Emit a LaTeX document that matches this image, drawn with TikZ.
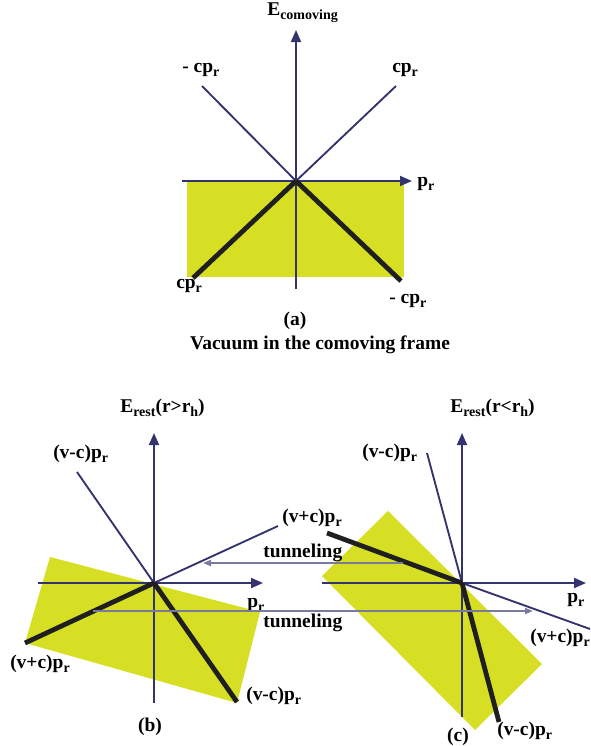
\documentclass[tikz,border=0pt]{standalone}
\usepackage{fontspec}
\setmainfont{Liberation Serif}
\usetikzlibrary{arrows.meta}
\definecolor{axisblue}{HTML}{33336E}
\definecolor{tunblue}{HTML}{7A7A9C}
\definecolor{vacyellow}{HTML}{D6DF23}
\newcommand\sbs[1]{\raisebox{-0.45ex}{\fontsize{10.5}{11}\selectfont #1}}
\tikzset{
  lbl/.style={inner sep=0pt,font=\fontsize{14.6}{16}\selectfont\bfseries,text=black},
  axis/.style={axisblue,line width=1.4pt,-{Triangle[width=7.5pt,length=9pt]}},
  thin/.style={axisblue,line width=1.4pt},
  thick/.style={black!88,line width=3.6pt},
  tun/.style={tunblue,line width=1.4pt,-{Triangle[width=4.5pt,length=6pt]}},
  vac/.style={fill=vacyellow,draw=none}
}
\begin{document}
\begin{tikzpicture}[x=0.75pt,y=-0.75pt]
\useasboundingbox (0,0) rectangle (590,746);
% ---------------- panel (a)
\coordinate (Oa) at (296,181);
\coordinate (aB) at (296,289);
\coordinate (aT) at (296,30);
\coordinate (aL) at (182,181);
\coordinate (aR) at (412,181);
\coordinate (aUL) at (202,86);
\coordinate (aUR) at (396,86);
\coordinate (aDL) at (193,278);
\coordinate (aDR) at (401,281);
\fill[vac] (187,181) rectangle (404,277);
\draw[axis] (aB) -- (aT);
\draw[axis] (aL) -- (aR);
\draw[thin] (Oa) -- (aUL);
\draw[thin] (Oa) -- (aUR);
\draw[thick] (Oa) -- (aDL);
\draw[thick] (Oa) -- (aDR);
\node[lbl,anchor=base west] (la1) at (267,15) {E\sbs{comoving}};
\node[lbl,anchor=base west] (la2) at (182,72) {- cp\sbs{r}};
\node[lbl,anchor=base west] (la3) at (392,72) {cp\sbs{r}};
\node[lbl,anchor=base west] (la4) at (417,186) {p\sbs{r}};
\node[lbl,anchor=base west] (la5) at (176,288) {cp\sbs{r}};
\node[lbl,anchor=base west] (la6) at (389,303) {- cp\sbs{r}};
\node[lbl,anchor=base] (la7) at (295,325) {(a)};
\node[lbl,anchor=base] (la8) at (320,349) {Vacuum in the comoving frame};
% ---------------- panel (b)
\coordinate (Ob) at (154,583);
\coordinate (bB) at (154,703);
\coordinate (bT) at (154,433);
\coordinate (bL) at (38,583);
\coordinate (bR) at (263,583);
\coordinate (bUL) at (77,472);
\coordinate (bUR) at (278,526);
\coordinate (bDL) at (25,643);
\coordinate (bDR) at (237,702);
\fill[vac] (50,557) -- (260,612) -- (237,703) -- (25,643) -- cycle;
\draw[axis] (bB) -- (bT);
\draw[axis] (bL) -- (bR);
\draw[thin] (Ob) -- (bUL);
\draw[thin] (Ob) -- (bUR);
\draw[thick] (Ob) -- (bDL);
\draw[thick] (Ob) -- (bDR);
\node[lbl,anchor=base west] (lb1) at (120,412) {E\sbs{rest}(r>r\sbs{h})};
\node[lbl,anchor=base west] (lb2) at (53,458) {(v-c)p\sbs{r}};
\node[lbl,anchor=base west] (lb3) at (282,522) {(v+c)p\sbs{r}};
\node[lbl,anchor=base west] (lb4) at (247,607) {p\sbs{r}};
\node[lbl,anchor=base west] (lb5) at (10,668) {(v+c)p\sbs{r}};
\node[lbl,anchor=base west] (lb6) at (246,700) {(v-c)p\sbs{r}};
\node[lbl,anchor=base] (lb7) at (150,731) {(b)};
% ---------------- panel (c)
\coordinate (Oc) at (462,583);
\coordinate (cB) at (462,717);
\coordinate (cT) at (462,433);
\coordinate (cL) at (322,583);
\coordinate (cR) at (586,583);
\coordinate (cUL) at (427,453);
\coordinate (cDR) at (590,629);
\coordinate (cTL) at (327,533);
\coordinate (cBT) at (499,722);
\fill[vac] (388,511) -- (542,664) -- (475,730) -- (322,576) -- cycle;
\draw[axis] (cB) -- (cT);
\draw[axis] (cL) -- (cR);
\draw[thin] (Oc) -- (cUL);
\draw[thin] (Oc) -- (cDR);
\draw[thick] (Oc) -- (cTL);
\draw[thick] (Oc) -- (cBT);
\node[lbl,anchor=base west] (lc1) at (450,412) {E\sbs{rest}(r<r\sbs{h})};
\node[lbl,anchor=base west] (lc2) at (362,457) {(v-c)p\sbs{r}};
\node[lbl,anchor=base west] (lc3) at (567,602) {p\sbs{r}};
\node[lbl,anchor=base west] (lc4) at (530,642) {(v+c)p\sbs{r}};
\node[lbl,anchor=base] (lc5) at (458,741) {(c)};
\node[lbl,anchor=base west] (lc6) at (497,735) {(v-c)p\sbs{r}};
% ---------------- tunneling
\coordinate (t1s) at (403,563);
\coordinate (t1e) at (203,563);
\coordinate (t2s) at (93,611);
\coordinate (t2e) at (533,611);
\draw[tun] (t1s) -- (t1e);
\draw[tun] (t2s) -- (t2e);
\node[lbl,anchor=base west] (lt1) at (263,557) {tunneling};
\node[lbl,anchor=base west] (lt2) at (263,627) {tunneling};
\end{tikzpicture}
\end{document}
